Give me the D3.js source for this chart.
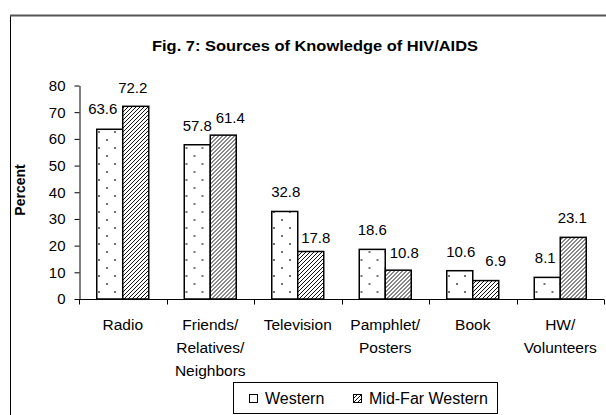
<!DOCTYPE html>
<html>
<head>
<meta charset="utf-8">
<script src="https://cdn.jsdelivr.net/npm/d3@7"></script>
<style>
  body { margin: 0; background: #fff; }
  svg { display: block; font-family: "Liberation Sans", Arial, sans-serif; }
</style>
</head>
<body>
<svg id="chart"></svg>
<script>
// data
var categories = ["Radio", "Friends/\nRelatives/\nNeighbors", "Television", "Pamphlet/\nPosters", "Book", "HW/\nVolunteers"];
var series = ["Western", "Mid-Far Western"];
var western = [63.6, 57.8, 32.8, 18.6, 10.6, 8.1];
var midFarWestern = [72.2, 61.4, 17.8, 10.8, 6.9, 23.1];
var yTicks = [0, 10, 20, 30, 40, 50, 60, 70, 80];

// small nudges of the value labels, as Excel placed them [dx, dy]
var labelNudge = {
  "0-0": [-7, -1], "0-1": [-3, 1],
  "1-1": [7, 2],
  "2-0": [1, 0], "2-1": [5, 6],
  "3-1": [6, 2],
  "4-0": [1, 0], "4-1": [10, -1],
  "5-0": [-2, 0], "5-1": [-1, 0]
};

var width = 606, height = 415;
var svg = d3.select("#chart").attr("width", width).attr("height", height);

// patterns
var defs = svg.append("defs");
var dots = defs.append("pattern")
  .attr("id", "dots").attr("patternUnits", "userSpaceOnUse")
  .attr("width", 16).attr("height", 16);
dots.append("rect").attr("width", 16).attr("height", 16).attr("fill", "#fff");
dots.append("circle").attr("cx", 4).attr("cy", 4).attr("r", 0.9).attr("fill", "#333");
dots.append("circle").attr("cx", 12).attr("cy", 12).attr("r", 0.9).attr("fill", "#333");

var hatch = defs.append("pattern")
  .attr("id", "hatch").attr("patternUnits", "userSpaceOnUse")
  .attr("width", 4).attr("height", 4);
hatch.append("rect").attr("width", 4).attr("height", 4).attr("fill", "#fff");
hatch.append("path").attr("d", "M-1,1 l2,-2 M0,4 l4,-4 M3,5 l2,-2")
  .attr("stroke", "#111").attr("stroke-width", 1);

var fills = ["url(#dots)", "url(#hatch)"];

// outer frame
svg.append("rect")
  .attr("x", 10.5).attr("y", 15.5).attr("width", 620).attr("height", 420)
  .attr("fill", "none").attr("stroke", "#000");
svg.append("line")
  .attr("x1", 10).attr("x2", 606).attr("y1", 15.5).attr("y2", 15.5)
  .attr("stroke", "#555").attr("stroke-width", 2);

// title
svg.append("text")
  .attr("x", 315).attr("y", 51)
  .attr("text-anchor", "middle")
  .style("font-size", "15px").style("font-weight", "bold")
  .attr("textLength", 326).attr("lengthAdjust", "spacingAndGlyphs")
  .text("Fig. 7: Sources of Knowledge of HIV/AIDS");

// scales
var x = d3.scaleBand().domain(categories).range([79, 604]).padding(0);
var xs = d3.scaleBand().domain(series).range([0, x.bandwidth()]).paddingInner(0).paddingOuter(0.683);
var y = d3.scaleLinear().domain([0, 80]).range([299, 85.5]);

// y axis
var yAxis = svg.append("g")
  .attr("transform", "translate(79.5,0)")
  .call(d3.axisLeft(y).tickValues(yTicks).tickSize(5).tickPadding(9).tickSizeOuter(0));
yAxis.selectAll("text").style("font-size", "15px").attr("fill", "#000");
yAxis.selectAll("line, path").attr("stroke", "#000");

svg.append("text")
  .attr("transform", "translate(25,190) rotate(-90)")
  .attr("text-anchor", "middle")
  .style("font-size", "14px").style("font-weight", "bold")
  .text("Percent");

// bars
var rows = categories.map(function(c, i) {
  return { cat: c, i: i, vals: [western[i], midFarWestern[i]] };
});

var groups = svg.append("g").selectAll("g")
  .data(rows)
  .enter().append("g")
  .attr("transform", function(d) { return "translate(" + x(d.cat) + ",0)"; });

groups.selectAll("rect")
  .data(function(d) { return d.vals.map(function(v, j) { return { v: v, j: j, i: d.i }; }); })
  .enter().append("rect")
  .attr("x", function(d) { return xs(series[d.j]); })
  .attr("y", function(d) { return y(d.v); })
  .attr("width", xs.bandwidth())
  .attr("height", function(d) { return y(0) - y(d.v); })
  .attr("fill", function(d) { return fills[d.j]; })
  .attr("stroke", "#000")
  .attr("stroke-width", 1.5);

groups.selectAll("text.val")
  .data(function(d) { return d.vals.map(function(v, j) { return { v: v, j: j, i: d.i }; }); })
  .enter().append("text")
  .attr("class", "val")
  .attr("x", function(d) {
    var n = labelNudge[d.i + "-" + d.j] || [0, 0];
    return xs(series[d.j]) + xs.bandwidth() / 2 + n[0];
  })
  .attr("y", function(d) {
    var n = labelNudge[d.i + "-" + d.j] || [0, 0];
    return y(d.v) - 14 + n[1];
  })
  .attr("text-anchor", "middle")
  .style("font-size", "15px")
  .text(function(d) { return d.v.toFixed(1); });

// x axis
var xAxis = svg.append("g")
  .attr("transform", "translate(0,299.5)");
xAxis.append("line")
  .attr("x1", 79).attr("x2", 604).attr("stroke", "#000");
xAxis.selectAll("line.tick")
  .data(d3.range(categories.length + 1))
  .enter().append("line")
  .attr("class", "tick")
  .attr("x1", function(i) { return Math.round(79 + i * x.step()) + 0.5; })
  .attr("x2", function(i) { return Math.round(79 + i * x.step()) + 0.5; })
  .attr("y1", 0).attr("y2", 5)
  .attr("stroke", "#000");

xAxis.selectAll("text")
  .data(categories)
  .enter().append("text")
  .attr("text-anchor", "middle")
  .style("font-size", "15.5px")
  .each(function(c) {
    var t = d3.select(this);
    c.split("\n").forEach(function(line, k) {
      t.append("tspan")
        .attr("x", x(c) + x.bandwidth() / 2)
        .attr("y", 30 + k * 23)
        .text(line);
    });
  });

// legend
var legend = svg.append("g").attr("class", "legend");
legend.append("rect")
  .attr("x", 233.5).attr("y", 382.5).attr("width", 264).attr("height", 31)
  .attr("fill", "#fff").attr("stroke", "#000");
var legendX = [249, 353];
series.forEach(function(s, j) {
  legend.append("rect")
    .attr("x", legendX[j] + 0.5).attr("y", 394.5).attr("width", 8).attr("height", 8)
    .attr("fill", j === 0 ? "#fff" : "url(#hatch)")
    .attr("stroke", "#000");
  legend.append("text")
    .attr("x", legendX[j] + 16).attr("y", 404)
    .style("font-size", "16px")
    .text(s);
});
</script>
</body>
</html>
